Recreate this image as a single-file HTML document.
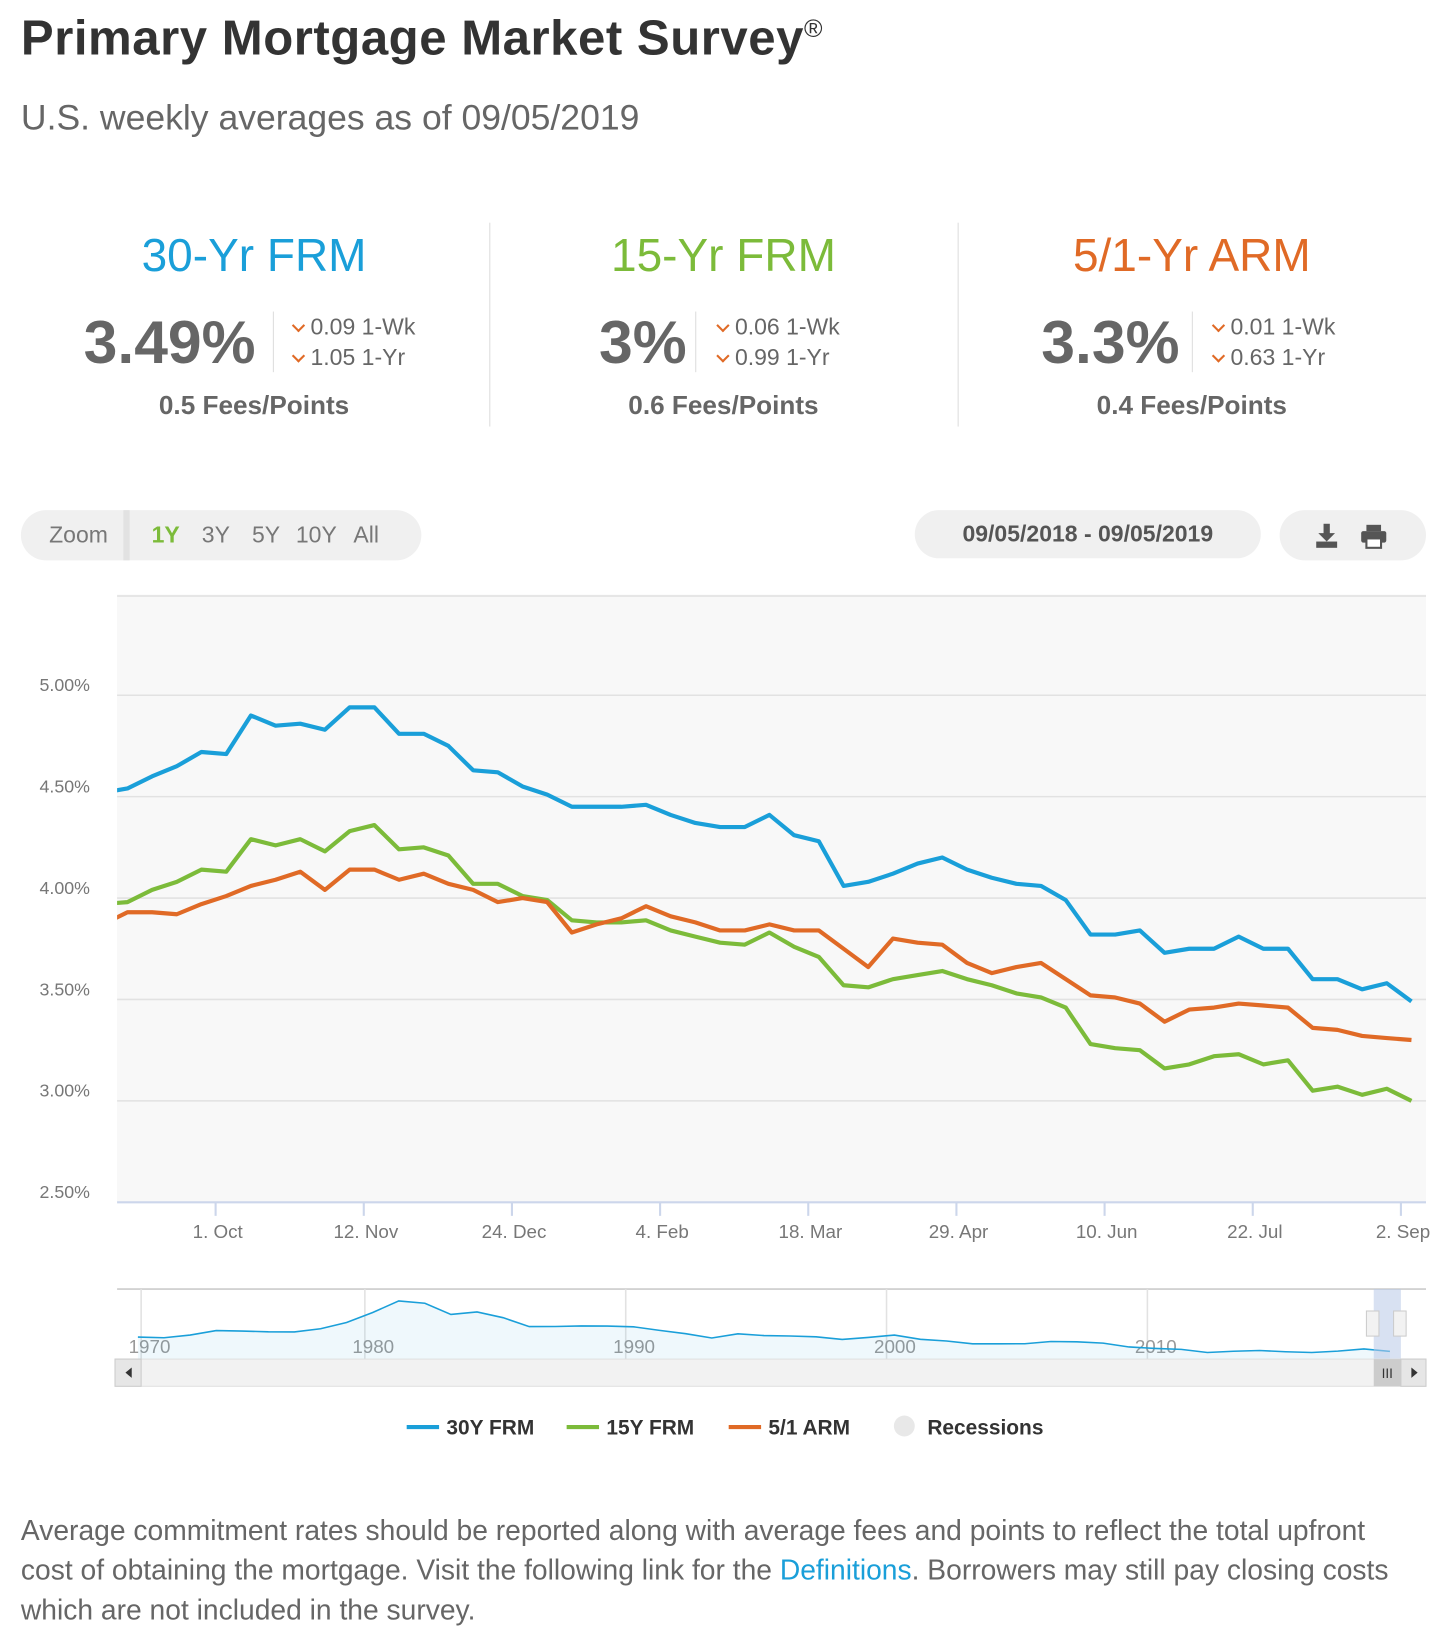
<!DOCTYPE html>
<html><head><meta charset="utf-8"><style>
html,body{margin:0;padding:0;background:#fff;width:1449px;height:1646px;overflow:hidden}
#wrap{position:absolute;left:0;top:0;width:1386px;height:1574px;transform:scale(1.045455);transform-origin:0 0;font-family:"Liberation Sans",sans-serif;color:#555}
.abs{position:absolute;white-space:nowrap}
.col{position:absolute;width:448px;text-align:center}
.ttl{font-size:44px;top:220px;left:0;right:0;position:absolute}
.big{position:absolute;font-size:58px;font-weight:bold;color:#666;top:294px}
.chg{position:absolute;font-size:22px;color:#666}
.chg b{display:inline-block;width:7px;height:7px;border-right:2px solid #e06a26;border-bottom:2px solid #e06a26;transform:rotate(45deg);margin:0 7px 5px 2px;vertical-align:middle}
.fees{position:absolute;top:374px;left:0;right:0;font-size:25px;font-weight:bold;color:#666}
.vd{position:absolute;width:1px;background:#ddd}
</style></head><body>
<div id="wrap">
<div class="abs" style="left:20px;top:8px;font-size:47px;font-weight:bold;color:#333;letter-spacing:0.5px">Primary Mortgage Market Survey<sup style="font-size:24px;font-weight:normal">®</sup></div>
<div class="abs" style="left:20px;top:94px;font-size:34px;color:#666">U.S. weekly averages as of 09/05/2019</div>

<div class="col" style="left:19px;top:0;height:420px">
 <div class="ttl" style="color:#1a9fd9">30-Yr FRM</div>
 <div class="big" style="left:61px">3.49%</div>
 <div class="vd" style="left:242px;top:298px;height:58px"></div>
 <div class="chg" style="left:260px;top:300px"><b></b>0.09 1-Wk</div>
 <div class="chg" style="left:260px;top:329px"><b></b>1.05 1-Yr</div>
 <div class="fees">0.5 Fees/Points</div>
</div>
<div class="vd" style="left:468px;top:213px;height:195px"></div>
<div class="col" style="left:468px;top:0;height:420px">
 <div class="ttl" style="color:#7cbb3a">15-Yr FRM</div>
 <div class="big" style="left:105px">3%</div>
 <div class="vd" style="left:197px;top:298px;height:58px"></div>
 <div class="chg" style="left:217px;top:300px"><b></b>0.06 1-Wk</div>
 <div class="chg" style="left:217px;top:329px"><b></b>0.99 1-Yr</div>
 <div class="fees">0.6 Fees/Points</div>
</div>
<div class="vd" style="left:916px;top:213px;height:195px"></div>
<div class="col" style="left:916px;top:0;height:420px">
 <div class="ttl" style="color:#e06a26">5/1-Yr ARM</div>
 <div class="big" style="left:80px">3.3%</div>
 <div class="vd" style="left:224px;top:298px;height:58px"></div>
 <div class="chg" style="left:243px;top:300px"><b></b>0.01 1-Wk</div>
 <div class="chg" style="left:243px;top:329px"><b></b>0.63 1-Yr</div>
 <div class="fees">0.4 Fees/Points</div>
</div>

<div class="abs" style="left:20px;top:488px;width:383px;height:48px;background:#f0f0f0;border-radius:24px"></div>
<div class="abs" style="left:47px;top:499px;font-size:22px;color:#777">Zoom</div>
<div class="abs" style="left:118px;top:488px;width:6px;height:48px;background:#e2e2e2"></div>
<div class="abs" style="left:145px;top:499px;font-size:22px;color:#7cbb3a;font-weight:bold">1Y</div>
<div class="abs" style="left:193px;top:499px;font-size:22px;color:#777">3Y</div>
<div class="abs" style="left:241px;top:499px;font-size:22px;color:#777">5Y</div>
<div class="abs" style="left:283px;top:499px;font-size:22px;color:#777">10Y</div>
<div class="abs" style="left:338px;top:499px;font-size:22px;color:#777">All</div>
<div class="abs" style="left:875px;top:488px;width:331px;height:46px;background:#f0f0f0;border-radius:23px;text-align:center;line-height:46px;font-size:22px;font-weight:bold;color:#555">09/05/2018 - 09/05/2019</div>
<div class="abs" style="left:1224px;top:488px;width:140px;height:48px;background:#f0f0f0;border-radius:24px"></div>
<svg class="abs" style="left:1256px;top:498px" width="80" height="30">
 <g fill="#555"><rect x="10" y="3" width="6" height="10"/><polygon points="5,12 21,12 13,20"/><rect x="3" y="20" width="20" height="6"/>
 <rect x="51" y="4" width="14" height="6"/><rect x="46" y="10" width="24" height="11" rx="2"/><rect x="51" y="17" width="14" height="9" fill="#fff" stroke="#555" stroke-width="2"/></g>
</svg>

<svg class="abs" style="left:0;top:0" width="1386" height="1574" id="chart"></svg>

<div class="abs" style="left:20px;top:1445px;font-size:27px;line-height:38px;color:#666;white-space:normal;width:1320px">Average commitment rates should be reported along with average fees and points to reflect the total upfront cost of obtaining the mortgage. Visit the following link for the <span style="color:#1a9fd9">Definitions</span>. Borrowers may still pay closing costs which are not included in the survey.</div>
</div>
<script>
const startDate = "2018-08-30";
const frm30 = [4.52,4.54,4.60,4.65,4.72,4.71,4.90,4.85,4.86,4.83,4.94,4.94,4.81,4.81,4.75,4.63,4.62,4.55,4.51,4.45,4.45,4.45,4.46,4.41,4.37,4.35,4.35,4.41,4.31,4.28,4.06,4.08,4.12,4.17,4.20,4.14,4.10,4.07,4.06,3.99,3.82,3.82,3.84,3.73,3.75,3.75,3.81,3.75,3.75,3.60,3.60,3.55,3.58,3.49];
const frm15 = [3.97,3.98,4.04,4.08,4.14,4.13,4.29,4.26,4.29,4.23,4.33,4.36,4.24,4.25,4.21,4.07,4.07,4.01,3.99,3.89,3.88,3.88,3.89,3.84,3.81,3.78,3.77,3.83,3.76,3.71,3.57,3.56,3.60,3.62,3.64,3.60,3.57,3.53,3.51,3.46,3.28,3.26,3.25,3.16,3.18,3.22,3.23,3.18,3.20,3.05,3.07,3.03,3.06,3.00];
const arm51 = [3.87,3.93,3.93,3.92,3.97,4.01,4.06,4.09,4.13,4.04,4.14,4.14,4.09,4.12,4.07,4.04,3.98,4.00,3.98,3.83,3.87,3.90,3.96,3.91,3.88,3.84,3.84,3.87,3.84,3.84,3.75,3.66,3.80,3.78,3.77,3.68,3.63,3.66,3.68,3.60,3.52,3.51,3.48,3.39,3.45,3.46,3.48,3.47,3.46,3.36,3.35,3.32,3.31,3.30];
const yTicks = [2.5,3.0,3.5,4.0,4.5,5.0];
const xTickDates = ["2018-10-01","2018-11-12","2018-12-24","2019-02-04","2019-03-18","2019-04-29","2019-06-10","2019-07-22","2019-09-02"];
const xTickLabels = ["1. Oct","12. Nov","24. Dec","4. Feb","18. Mar","29. Apr","10. Jun","22. Jul","2. Sep"];
const navYears = [1971,1972,1973,1974,1975,1976,1977,1978,1979,1980,1981,1982,1983,1984,1985,1986,1987,1988,1989,1990,1991,1992,1993,1994,1995,1996,1997,1998,1999,2000,2001,2002,2003,2004,2005,2006,2007,2008,2009,2010,2011,2012,2013,2014,2015,2016,2017,2018,2019];
const navRates = [7.54,7.38,8.04,9.19,9.05,8.87,8.85,9.64,11.2,13.74,16.63,16.04,13.24,13.88,12.43,10.19,10.21,10.34,10.32,10.13,9.25,8.39,7.31,8.38,7.93,7.81,7.6,6.94,7.44,8.05,6.97,6.54,5.83,5.84,5.87,6.41,6.34,6.03,5.04,4.69,4.45,3.66,3.98,4.17,3.85,3.65,3.99,4.54,3.94];
const navDecades = [1970,1980,1990,2000,2010];

const NS="http://www.w3.org/2000/svg";
const svg=document.getElementById('chart');
function mk(t,a,p){const e=document.createElementNS(NS,t);for(const k in a)e.setAttribute(k,a[k]);(p||svg).appendChild(e);return e;}
const L=112,R=1364,T=570,B=1150;
const DAY=86400000;
const ref=Date.UTC(2019,8,2);
function xs(d){return 1340+(d-ref)/(7*DAY)*23.62;}
function ys(v){return B-(v-2.5)*194;}
function pd(s){const p=s.split('-');return Date.UTC(+p[0],+p[1]-1,+p[2]);}
const bg=mk('rect',{x:L,y:T,width:R-L,height:B-T,fill:'#f8f8f8'});


mk('line',{x1:L,x2:R,y1:T,y2:T,stroke:'#e6e6e6','stroke-width':2});
yTicks.forEach(v=>{
 const g=mk('line',{x1:L,x2:R,y1:ys(v),y2:ys(v),stroke:v===2.5?'#ccd6eb':'#e2e2e2','stroke-width':v===2.5?2:1.5});
 
 
 const t=mk('text',{x:86,y:ys(v)-4,'text-anchor':'end','font-size':17,fill:'#777'});
 
 
 t.textContent=v.toFixed(2)+'%';
});
xTickDates.forEach((d,i)=>{
 const x=xs(pd(d));
 mk('line',{x1:x,x2:x,y1:B,y2:B+13,stroke:'#ccd6eb','stroke-width':2});
 const t=mk('text',{x:x+2,y:B+34,'text-anchor':'middle','font-size':18,fill:'#777'});
 
 
 t.textContent=xTickLabels[i];
});
const defs=mk('defs',{});
const cp=mk('clipPath',{id:'pc'},defs);mk('rect',{x:L,y:T,width:R-L,height:B-T},cp);
const s0=pd(startDate);
[[frm30,'#1a9fd9','line-30y-frm'],[frm15,'#7cbb3a','line-15y-frm'],[arm51,'#e06a26','line-5-1-arm']].forEach(([arr,c,n])=>{
 const d=arr.map((v,i)=>(i?'L':'M')+xs(s0+i*7*DAY).toFixed(1)+','+ys(v).toFixed(1)).join(' ');
 const p=mk('path',{d:d,fill:'none',stroke:c,'stroke-width':4,'stroke-linejoin':'round','clip-path':'url(#pc)'});
 
 
});
// navigator
const NT=1233,NB=1300;
function nx(y){return 349+(y-1980)*24.95;}
function ny(v){return NB-(v-2)*3.8;}
mk('line',{x1:L,x2:R,y1:NT,y2:NT,stroke:'#ccc','stroke-width':1.5});
navDecades.forEach(y=>{
 const x=y===1970?135:nx(y);
 mk('line',{x1:x,x2:x,y1:NT,y2:NB,stroke:'#e2e2e2','stroke-width':1.5});
 const t=mk('text',{x:x-12,y:NB-6,'font-size':18,fill:'#999'});
 
 
 t.textContent=y;
});
let nd=navYears.map((y,i)=>(i?'L':'M')+nx(y+0.3).toFixed(1)+','+ny(navRates[i]).toFixed(1)).join(' ');
mk('path',{d:nd+' L'+nx(navYears[navYears.length-1]+0.3)+','+NB+' L'+nx(navYears[0]+0.3)+','+NB+' Z',fill:'#1a9fd9','fill-opacity':0.07});
const np=mk('path',{d:nd,fill:'none',stroke:'#1a9fd9','stroke-width':1.5});


mk('rect',{x:1314,y:NT,width:26,height:NB-NT,fill:'#b8c8e8','fill-opacity':0.55});
[1313,1339].forEach(x=>{const h=mk('rect',{x:x-6,y:1254,width:12,height:24,fill:'#f2f2f2',stroke:'#ccc'});});
const sb=mk('rect',{x:110,y:NB,width:1254,height:26,fill:'#f2f2f2',stroke:'#e0e0e0'});


mk('rect',{x:110,y:NB,width:25,height:26,fill:'#e6e6e6',stroke:'#ccc'});
mk('polygon',{points:'126,1308 126,1318 120,1313',fill:'#333'});
mk('rect',{x:1314,y:NB,width:26,height:26,fill:'#ccc'});
mk('text',{x:1327,y:NB+18,'text-anchor':'middle','font-size':13,fill:'#333'}).textContent='III';
mk('rect',{x:1340,y:NB,width:24,height:26,fill:'#e6e6e6',stroke:'#ccc'});
mk('polygon',{points:'1350,1308 1350,1318 1356,1313',fill:'#333'});
// legend
const leg=[['30Y FRM','#1a9fd9',389],['15Y FRM','#7cbb3a',542],['5/1 ARM','#e06a26',697]];
leg.forEach(([n,c,x])=>{
 const g=mk('g',{});
 
 
 mk('line',{x1:x,x2:x+31,y1:1365,y2:1365,stroke:c,'stroke-width':4},g);
 const t=mk('text',{x:x+38,y:1372,'font-size':20,'font-weight':'bold',fill:'#333'},g);t.textContent=n;
});
const g=mk('g',{});


mk('circle',{cx:865,cy:1364,r:10,fill:'#e8e8e8'},g);
const rt=mk('text',{x:887,y:1372,'font-size':20,'font-weight':'bold',fill:'#333'},g);rt.textContent='Recessions';
</script>
</body></html>
